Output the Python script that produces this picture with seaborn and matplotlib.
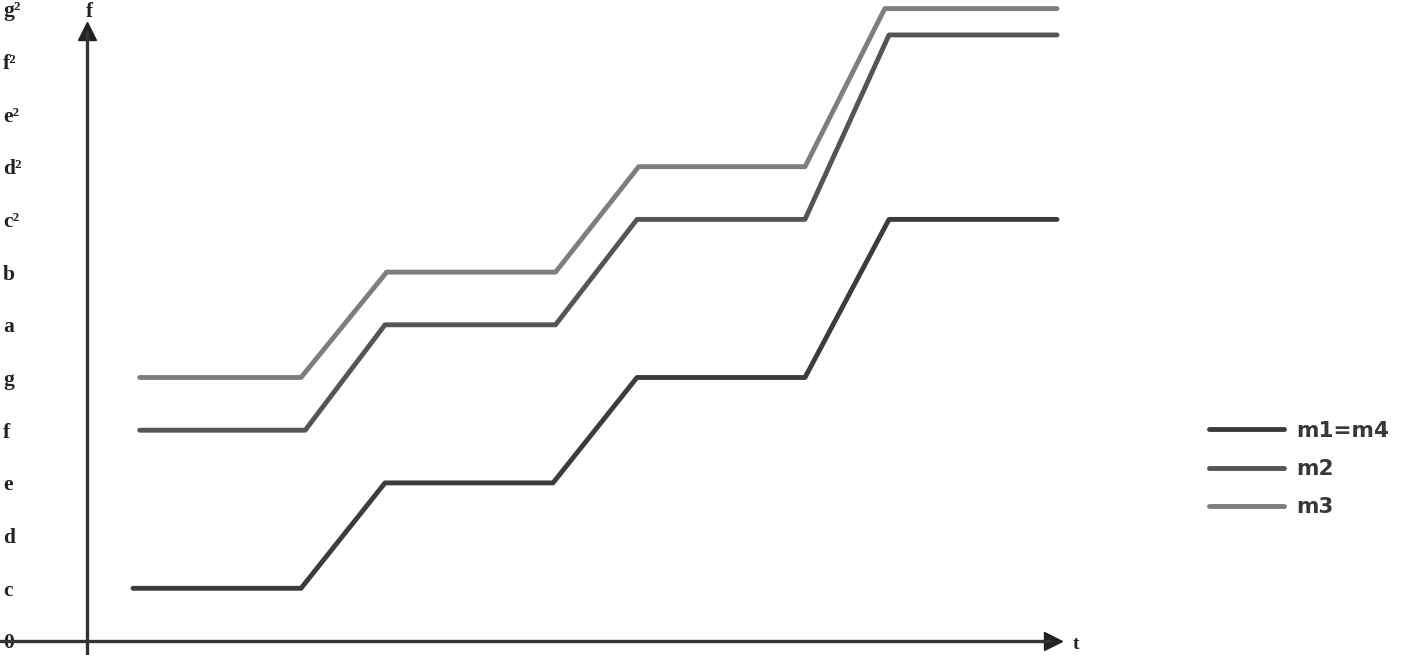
import matplotlib
matplotlib.use("Agg")
import matplotlib.pyplot as plt
import seaborn as sns
import pandas as pd

# ---- data ----
note_labels = ['0', 'c', 'd', 'e', 'f', 'g', 'a', 'b', 'c²', 'd²', 'e²', 'f²', 'g²']
note_positions = list(range(len(note_labels)))

t_m1 = [0, 2, 3, 5, 6, 8, 9, 11]
f_m1 = [1, 1, 3, 3, 5, 5, 8, 8]

t_m2 = [0.08, 2.05, 3, 5.03, 6, 8, 9, 11]
f_m2 = [4, 4, 6, 6, 8, 8, 11.5, 11.5]

t_m3 = [0.08, 2, 3.02, 5.03, 6.02, 8, 8.95, 11]
f_m3 = [5, 5, 7, 7, 9, 9, 12, 12]

series_names = ['m1=m4', 'm2', 'm3']
series_colors = ['#3c3c3c', '#555555', '#7e7e7e']

rows = []
for name, ts, fs in zip(series_names, [t_m1, t_m2, t_m3], [f_m1, f_m2, f_m3]):
    for t, f in zip(ts, fs):
        rows.append({'t': t, 'f': f, 'series': name})
df = pd.DataFrame(rows)

# ---- figure ----
sns.set_style('white')
plt.rcParams['font.family'] = ['Liberation Serif', 'DejaVu Serif']

W, H = 1409, 655
fig = plt.figure(figsize=(W / 100, H / 100), dpi=100)
ax = fig.add_axes([0, 0, 1, 1])

sns.lineplot(data=df, x='t', y='f', hue='series', hue_order=series_names,
             palette=dict(zip(series_names, series_colors)),
             linewidth=3.5, ax=ax, legend=True, estimator=None, sort=False)

# pixel-based layout: t=0 at px 133, 84 px per unit; f=0 at px 641, 52.7 px per unit
px_t0, px_tu = 133, 84
px_f0, px_fu = 641, 52.7
ax.set_xlim(-px_t0 / px_tu, (W - px_t0) / px_tu)
ax.set_ylim((px_f0 - H) / px_fu, px_f0 / px_fu)

yaxis_t = (87 - px_t0) / px_tu
for s in ['top', 'right']:
    ax.spines[s].set_visible(False)
ax.spines['left'].set_position(('data', yaxis_t))
ax.spines['bottom'].set_position(('data', 0))
for s in ['left', 'bottom']:
    ax.spines[s].set_color('#333333')
    ax.spines[s].set_linewidth(2.4)
ax.spines['left'].set_bounds((px_f0 - H) / px_fu, (px_f0 - 32) / px_fu)
ax.spines['bottom'].set_bounds(-px_t0 / px_tu, (1050 - px_t0) / px_tu)

# arrow heads
ax.plot([yaxis_t], [(px_f0 - 31) / px_fu], marker='^', color='#222222', markersize=13, clip_on=False)
ax.plot([(1053 - px_t0) / px_tu], [0], marker='>', color='#222222', markersize=13, clip_on=False)

ax.set_yticks(note_positions)
ax.set_yticklabels(note_labels, fontweight='bold', fontsize=15.5, color='#222222')
ax.tick_params(axis='y', length=0, pad=(87 - 3) * 0.72)
for lab in ax.get_yticklabels():
    lab.set_horizontalalignment('left')
ax.set_xticks([])

ax.set_xlabel('t', fontweight='bold', fontsize=14, color='#222222')
ax.xaxis.set_label_coords(1076 / W, (H - 636) / H)
ax.set_ylabel('f', fontweight='bold', fontsize=15, color='#222222', rotation=0)
ax.yaxis.set_label_coords(89 / W, (H - 22) / H)

leg = ax.legend(frameon=False, loc='upper left', bbox_to_anchor=(1198 / W, (H - 410) / H),
                prop={'family': 'DejaVu Sans', 'weight': 'bold', 'size': 15.5},
                handlelength=3.5, handletextpad=0.55, labelspacing=0.85, borderpad=0)
for line in leg.get_lines():
    line.set_linewidth(3.5)
for txt in leg.get_texts():
    txt.set_color('#383838')

fig.savefig('out.png', dpi=100)
